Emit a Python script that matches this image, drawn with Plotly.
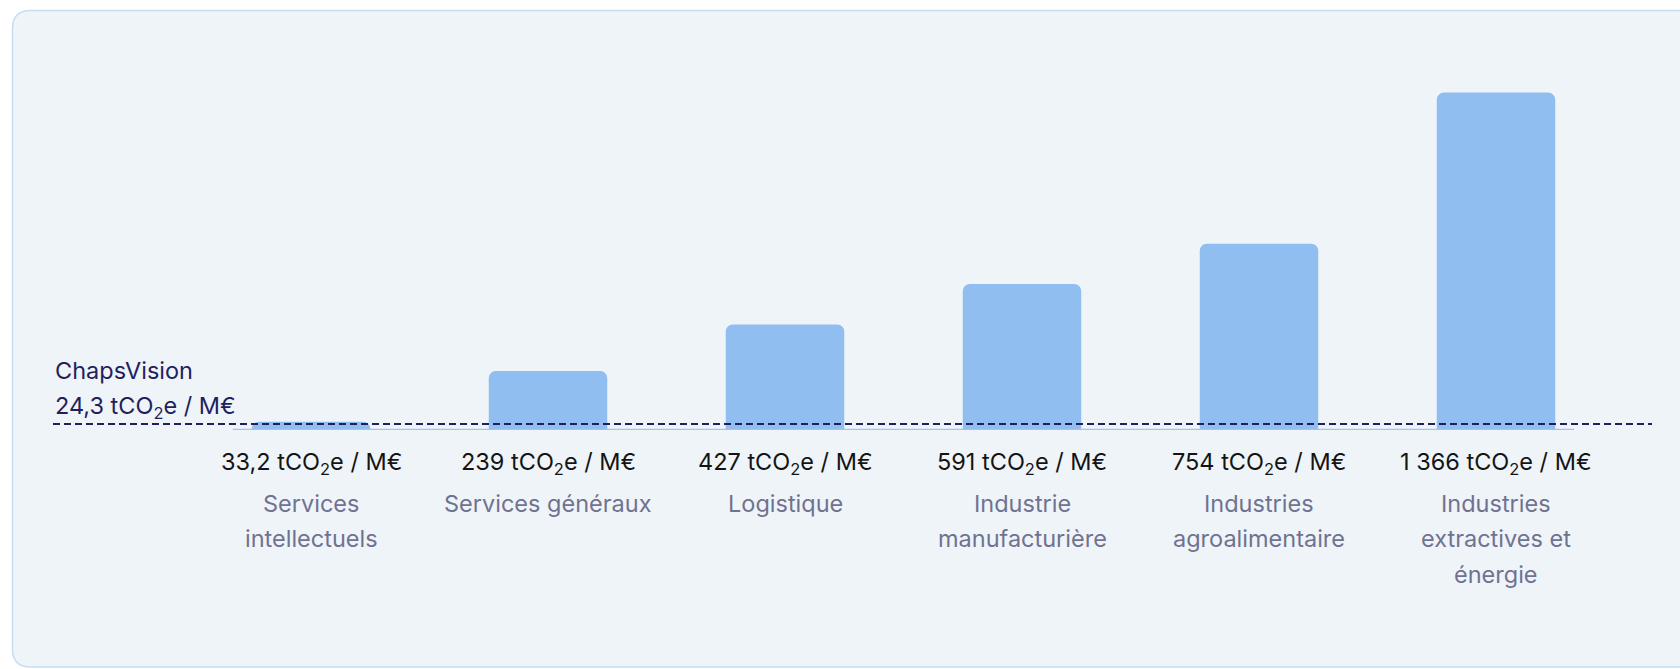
import plotly.graph_objects as go

# ---- data ----
categories = ["Services intellectuels", "Services généraux", "Logistique",
              "Industrie manufacturière", "Industries agroalimentaire",
              "Industries extractives et énergie"]
category_lines = [["Services", "intellectuels"], ["Services généraux"], ["Logistique"],
                  ["Industrie", "manufacturière"], ["Industries", "agroalimentaire"],
                  ["Industries", "extractives et", "énergie"]]
values = [33.2, 239, 427, 591, 754, 1366]
reference_name = "ChapsVision"
reference_value = 24.3
unit = "tCO<sub>2</sub>e / M€"


def fr(v):
    if float(v).is_integer():
        s = f"{int(v):,}".replace(",", " ")
    else:
        s = f"{v:.1f}".replace(".", ",")
    return s


W, H = 1680, 669
L, R, T, B = 53, 28, 20, 239
pw, ph = W - L - R, H - T - B
step = 237.0
x0 = -(311 - L) / step
x1 = x0 + pw / step
pxu = 0.247
ymax = ph / pxu

BAR = "#90bef0"
NAVY = "#221f5e"
GREY = "#6f7290"
FONT = "Inter, Roboto, sans-serif"
FS = 23.5

fig = go.Figure()
fig.add_trace(go.Bar(x=categories, y=values, width=0.5,
                     marker=dict(color=BAR, line=dict(width=0), cornerradius=7),
                     hoverinfo="skip"))


def px2x(p):
    return (p - L) / pw


def py2y(p):
    return (T + ph - p) / ph


# card with rounded corners (paper coords)
cl, cr, ct, cb = 12.5, 1700, 10.5, 667
rad = 18
rx, ry = rad / pw, rad / ph
xl, xr, yt, yb = px2x(cl), px2x(cr), py2y(ct), py2y(cb)
path = (f"M {xl+rx},{yt} L {xr-rx},{yt} Q {xr},{yt} {xr},{yt-ry} L {xr},{yb+ry} "
        f"Q {xr},{yb} {xr-rx},{yb} L {xl+rx},{yb} Q {xl},{yb} {xl},{yb+ry} "
        f"L {xl},{yt-ry} Q {xl},{yt} {xl+rx},{yt} Z")
shapes = [dict(type="path", path=path, xref="paper", yref="paper",
               fillcolor="#eff4f9", line=dict(color="#c6dcf5", width=1.5), layer="below")]

# baseline
shapes.append(dict(type="line", xref="x", yref="y", x0=-0.33, x1=5.33, y0=0, y1=0,
                   line=dict(color="#a3c2f2", width=2.5), layer="above"))
# reference dashed line
shapes.append(dict(type="line", xref="paper", yref="y", x0=0, x1=1,
                   y0=reference_value, y1=reference_value,
                   line=dict(color=NAVY, width=2, dash="7px,4px"), layer="above"))

annotations = []
for c, v, lines in zip(categories, values, category_lines):
    annotations.append(dict(x=c, y=0, xref="x", yref="y", yanchor="middle", xanchor="center",
                            yshift=-33, showarrow=False,
                            text=f"{fr(v)} {unit}", font=dict(family=FONT, size=FS, color="#141414")))
    for k, ln in enumerate(lines):
        annotations.append(dict(x=c, y=0, xref="x", yref="y", yanchor="middle", xanchor="center",
                                yshift=-(73 + 35.5 * k), showarrow=False,
                                text=ln, font=dict(family=FONT, size=FS, color=GREY)))

annotations.append(dict(x=0, y=reference_value, xref="paper", yref="y", xanchor="left",
                        yanchor="middle", yshift=54, showarrow=False, text=reference_name,
                        font=dict(family=FONT, size=FS, color=NAVY)))
annotations.append(dict(x=0, y=reference_value, xref="paper", yref="y", xanchor="left",
                        yanchor="middle", yshift=17, showarrow=False,
                        text=f"{fr(reference_value)} {unit}",
                        font=dict(family=FONT, size=FS, color=NAVY)))

fig.update_layout(
    width=W, height=H,
    margin=dict(l=L, r=R, t=T, b=B, pad=0),
    paper_bgcolor="white", plot_bgcolor="rgba(0,0,0,0)",
    showlegend=False, bargap=0.5,
    xaxis=dict(range=[x0, x1], showgrid=False, zeroline=False, showticklabels=False,
               showline=False, ticks="", fixedrange=True),
    yaxis=dict(range=[0, ymax], showgrid=False, zeroline=False, showticklabels=False,
               showline=False, ticks="", fixedrange=True),
    shapes=shapes, annotations=annotations,
    font=dict(family=FONT),
)

fig.write_html("out.html", config={"displayModeBar": False},
               post_script="document.body.style.margin='0';document.body.style.overflow='hidden';")
